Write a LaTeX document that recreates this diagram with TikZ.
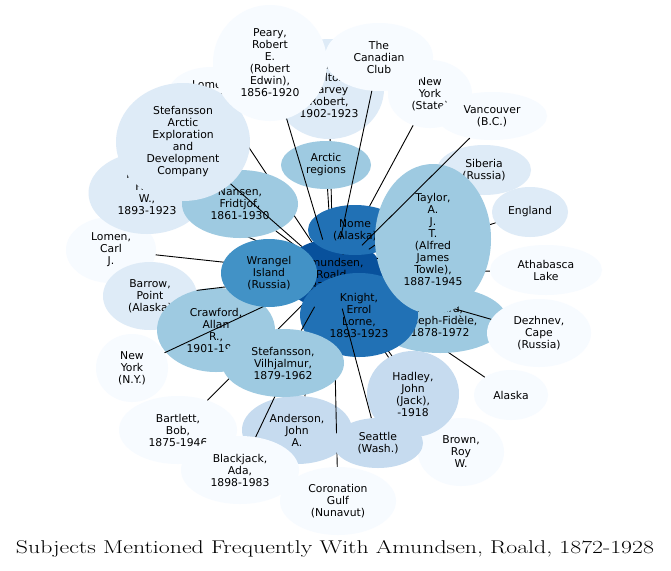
\documentclass[tikz,border=0pt]{standalone}
\usepackage{fontspec}
\usepackage{graphicx}
\usetikzlibrary{shapes.geometric}
\newfontfamily\labfont{DejaVu Sans}
\definecolor{b1}{HTML}{F7FBFF}
\definecolor{b2}{HTML}{DEEBF7}
\definecolor{b3}{HTML}{C6DBEF}
\definecolor{b4}{HTML}{9ECAE1}
\definecolor{b6}{HTML}{4292C6}
\definecolor{b7}{HTML}{2171B5}
\definecolor{b8}{HTML}{08519C}
\newcommand\mkgeo[5]{%
  \tikzset{sz-#1/.style={minimum width=#4pt,minimum height=#5pt}}%
  \node[geo,sz-#1] (g-#1) at (#2,#3) {};}
\newcommand\mkbub[3]{\node[bub,sz-#1,fill=#2] (#1) at (g-#1) {#3};}
\newcommand\mklink[1]{\draw[conn] (g-amundsen) -- (g-#1);}
\begin{document}
\begin{tikzpicture}[x=1pt,y=-1pt,
  geo/.style={ellipse,inner sep=0pt,draw=none,fill=none},
  bub/.style={ellipse,inner sep=0pt,align=center,text=black,
    font=\labfont\fontsize{10.8}{12}\selectfont},
  conn/.style={line width=0.9pt,black},
  titlestyle/.style={inner sep=0pt,font=\fontsize{18.5}{22}\selectfont}]
\useasboundingbox (0,0) rectangle (671,570);
\fill[white] (0,0) rectangle (671,570);
% geometry of all subjects
\mkgeo{amundsen}{333}{274}{100}{70}
\mkgeo{nome}{355}{230}{94}{50}
\mkgeo{knight}{359}{315}{118}{84}
\mkgeo{wrangel}{269}{273}{96}{68}
\mkgeo{taylor}{433}{239}{116}{150}
\mkgeo{bernard}{440}{320}{134}{66}
\mkgeo{dezhnev}{539}{333}{104}{68}
\mkgeo{athabasca}{546}{270}{112}{50}
\mkgeo{england}{530}{212}{76}{50}
\mkgeo{siberia}{484}{170}{94}{50}
\mkgeo{vancouver}{492}{116}{110}{48}
\mkgeo{nystate}{430}{94}{84}{68}
\mkgeo{canclub}{379}{57}{108}{68}
\mkgeo{galle}{329}{89}{110}{100}
\mkgeo{peary}{270}{63}{114}{116}
\mkgeo{lomentop}{212}{92}{86}{50}
\mkgeo{stefarctic}{183}{142}{134}{118}
\mkgeo{maurer}{147}{193}{117}{82}
\mkgeo{nansen}{240}{204}{116}{68}
\mkgeo{lomencarl}{111}{250}{90}{66}
\mkgeo{barrow}{150}{296}{94}{68}
\mkgeo{crawford}{216}{330}{118}{84}
\mkgeo{nyny}{132}{368}{72}{68}
\mkgeo{stefv}{283}{363}{122}{68}
\mkgeo{bartlett}{178}{430}{118}{68}
\mkgeo{blackjack}{240}{470}{118}{68}
\mkgeo{anderson}{297}{430}{110}{68}
\mkgeo{corgulf}{338}{501}{116}{68}
\mkgeo{seattle}{378}{443}{90}{50}
\mkgeo{hadley}{413}{394}{92}{86}
\mkgeo{brown}{461}{452}{86}{68}
\mkgeo{alaska}{511}{395}{74}{50}
\mkgeo{arcticreg}{326}{165}{90}{48}
% drawing, bottom to top
\mkbub{amundsen}{b8}{Amundsen,\\Roald,\\1872-1928}
\mkbub{lomencarl}{b1}{Lomen,\\Carl\\J.} \mklink{lomencarl}
\mkbub{barrow}{b2}{Barrow,\\Point\\(Alaska)}
\mkbub{crawford}{b4}{Crawford,\\Allan\\R.,\\1901-1924}
\mklink{barrow} \mklink{crawford}
\mkbub{nyny}{b1}{New\\York\\(N.Y.)} \mklink{nyny}
\mkbub{lomentop}{b1}{Lomen,\\Ralph} \mklink{lomentop}
\mkbub{maurer}{b2}{Maurer,\\Fred\\W.,\\1893-1923} \mklink{maurer}
\mkbub{nansen}{b4}{Nansen,\\Fridtjof,\\1861-1930} \mklink{nansen}
\mkbub{stefarctic}{b2}{Stefansson\\Arctic\\Exploration\\and\\Development\\Company} \mklink{stefarctic}
\mklink{wrangel} \mkbub{wrangel}{b6}{Wrangel\\Island\\(Russia)}
\mkbub{galle}{b2}{Galle,\\Milton\\Harvey\\Robert,\\1902-1923} \mklink{galle}
\mkbub{arcticreg}{b4}{Arctic\\regions} \mklink{arcticreg}
\mkbub{nystate}{b1}{New\\York\\(State)} \mklink{nystate}
\mklink{nome} \mkbub{nome}{b7}{Nome\\(Alaska)}
\mkbub{peary}{b1}{Peary,\\Robert\\E.\\(Robert\\Edwin),\\1856-1920} \mklink{peary}
\mkbub{canclub}{b1}{The\\Canadian\\Club} \mklink{canclub}
\mkbub{siberia}{b2}{Siberia\\(Russia)} \mklink{siberia}
\mkbub{england}{b2}{England} \mklink{england}
\mkbub{athabasca}{b1}{Athabasca\\Lake} \mklink{athabasca}
\mkbub{alaska}{b1}{Alaska} \mklink{alaska}
\mkbub{bernard}{b4}{Bernard,\\Joseph-Fidèle,\\1878-1972} \mklink{bernard}
\mkbub{dezhnev}{b1}{Dezhnev,\\Cape\\(Russia)} \mklink{dezhnev}
\mkbub{brown}{b1}{Brown,\\Roy\\W.} \mklink{brown}
\mkbub{hadley}{b3}{Hadley,\\John\\(Jack),\\-1918} \mklink{hadley}
\mkbub{anderson}{b3}{Anderson,\\John\\A.} \mklink{anderson}
\mkbub{corgulf}{b1}{Coronation\\Gulf\\(Nunavut)} \mklink{corgulf}
\mkbub{bartlett}{b1}{Bartlett,\\Bob,\\1875-1946} \mklink{bartlett}
\mkbub{blackjack}{b1}{Blackjack,\\Ada,\\1898-1983} \mklink{blackjack}
\mklink{knight} \mkbub{knight}{b7}{Knight,\\Errol\\Lorne,\\1893-1923}
\mkbub{taylor}{b4}{Taylor,\\A.\\J.\\T.\\(Alfred\\James\\Towle),\\1887-1945} \mklink{taylor}
\mkbub{vancouver}{b1}{Vancouver\\(B.C.)} \mklink{vancouver}
\mkbub{seattle}{b3}{Seattle\\(Wash.)} \mklink{seattle}
\mkbub{stefv}{b4}{Stefansson,\\Vilhjalmur,\\1879-1962} \mklink{stefv}
% title
\node[titlestyle] (title) at (335,549) {\resizebox{638pt}{\height}{Subjects Mentioned Frequently With Amundsen, Roald, 1872-1928}};
\end{tikzpicture}
\end{document}
